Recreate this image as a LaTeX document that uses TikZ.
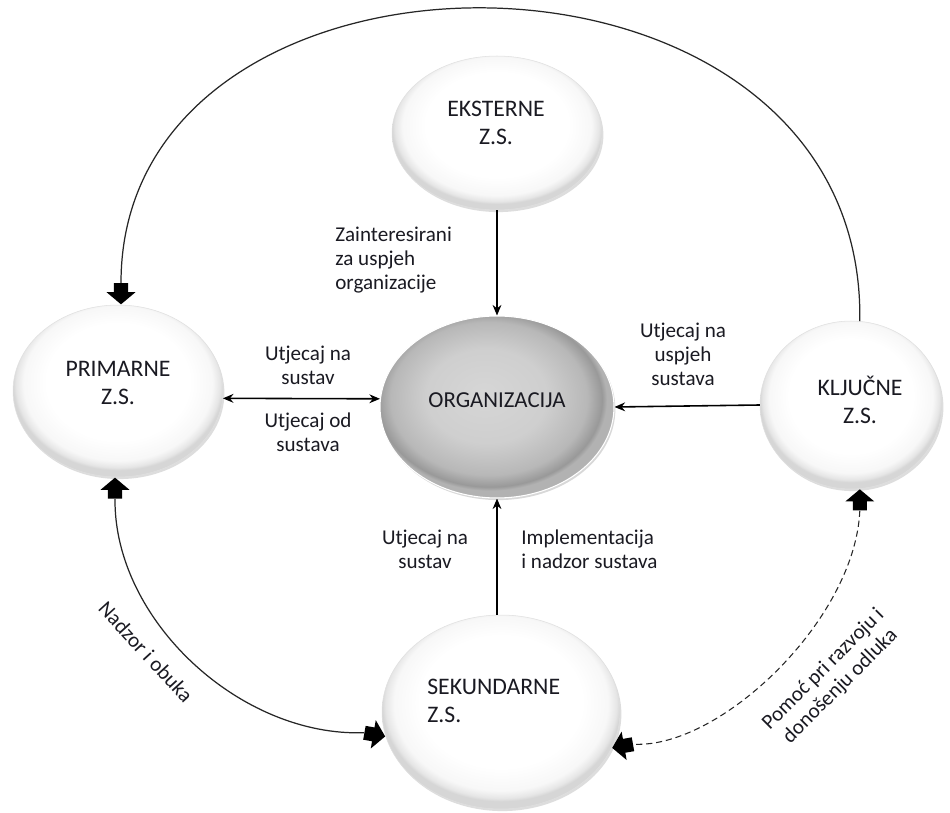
\documentclass[tikz,border=0pt]{standalone}
\usepackage{fontspec}
\setmainfont{Carlito}
\usetikzlibrary{arrows.meta,shapes.arrows,shapes.geometric,shadows}
\definecolor{zsA}{gray}{1}
\definecolor{zsB}{gray}{0.97}
\definecolor{zsC}{gray}{0.90}
\definecolor{zsD}{gray}{0.84}
\definecolor{orA}{gray}{0.84}
\definecolor{orB}{gray}{0.81}
\definecolor{orC}{gray}{0.72}
\definecolor{orD}{gray}{0.60}
\definecolor{orE}{gray}{0.70}
\definecolor{txt}{HTML}{1A1A22}
\pgfdeclareradialshading{zsball}{\pgfpoint{0bp}{4bp}}{color(0bp)=(zsA); color(17bp)=(zsA); color(22.5bp)=(zsB); color(24.3bp)=(zsC); color(25bp)=(zsD); color(50bp)=(zsD)}
\pgfdeclareradialshading{zsorg}{\pgfpoint{-3bp}{4bp}}{color(0bp)=(orA); color(13bp)=(orB); color(21bp)=(orC); color(24bp)=(orD); color(25bp)=(orE); color(50bp)=(orE)}
\newcommand{\lblfont}{\fontsize{12}{13.6}\selectfont}
\newcommand{\elfont}{\fontsize{13.5}{16}\selectfont}
\tikzset{
  zsnode/.style={ellipse, inner sep=0pt, shading=zsball, draw=black!12, line width=0.3pt,
    drop shadow={opacity=0.22, shadow xshift=0.8pt, shadow yshift=-1.2pt, fill=black!60}},
  orgnode/.style={ellipse, inner sep=0pt, shading=zsorg, draw=white, line width=0.6pt,
    drop shadow={opacity=0.25, shadow xshift=0.8pt, shadow yshift=-1.2pt, fill=black!60}},
  eltext/.style={font=\elfont, text=txt, align=center, inner sep=0pt},
  lbl/.style={font=\lblfont, text=txt, inner sep=0pt},
  fatarr/.style={single arrow, fill=black, draw=none, inner xsep=0pt, inner ysep=3.8pt,
    minimum height=12pt, single arrow head extend=4.2pt, single arrow tip angle=100, anchor=tip},
  sarrow/.style={line width=0.9pt, -{Stealth[length=6pt,width=5pt]}},
  curve/.style={line width=0.7pt, black!85}
}
\begin{document}
\begin{tikzpicture}[x=0.02cm, y=-0.02cm]
\useasboundingbox[fill=white] (0,0) rectangle (950,813);

% ellipses
\node[zsnode, minimum width=4.2cm, minimum height=3.08cm] (eks) at (497,133) {};
\node[orgnode, minimum width=4.68cm, minimum height=3.64cm] (org) at (497,407) {};
\node[zsnode, minimum width=4.2cm, minimum height=3.44cm] (pri) at (118,391) {};
\node[zsnode, minimum width=3.64cm, minimum height=3.36cm] (klj) at (851,405) {};
\node[zsnode, minimum width=4.76cm, minimum height=3.88cm] (sek) at (501,712) {};

% ellipse texts
\node[eltext] (eksT) at (496,123) {EKSTERNE\\Z.S.};
\node[eltext, font=\fontsize{13}{15}\selectfont] (orgT) at (497,400) {ORGANIZACIJA};
\node[eltext] (priT) at (118,383) {PRIMARNE\\Z.S.};
\node[eltext] (kljT) at (860,400) {KLJUČNE\\Z.S.};
\node[eltext, align=left, anchor=west] (sekT) at (427,701) {SEKUNDARNE\\Z.S.};

% straight connectors
\draw[sarrow] (eks.south) -- (org.north);
\draw[line width=0.9pt, {Stealth[length=6pt,width=5pt]}-{Stealth[length=6pt,width=5pt]}] (pri.-4) -- (org.176);
\draw[sarrow] (klj.west) -- (org.east);
\draw[sarrow] (org.south |- sek.north) -- (org.south);

% fat arrow heads
\node[fatarr, rotate=-90] (fa1) at (pri.88) {};
\node[fatarr, rotate=90] (fa2) at (pri.-92) {};
\node[fatarr, rotate=-10] (fa3) at (sek.192) {};
\node[fatarr, rotate=90] (fa4) at (klj.-84) {};
\node[fatarr, rotate=190] (fa5) at (sek.-18) {};

% curved connectors
\draw[curve] (klj.84) .. controls (866,-90) and (121,-90) .. (fa1.tail);
\draw[curve] (fa2.tail) .. controls (114,620) and (240,737) .. (fa3.tail);
\draw[curve, line width=0.6pt, dash pattern=on 3.5pt off 2.2pt] (fa4.tail) .. controls (855,620) and (720,749) .. (fa5.tail);

% labels
\node[lbl, align=left, anchor=west] (l1) at (335,260) {Zainteresirani\\za uspjeh\\organizacije};
\node[lbl, align=center] (l2) at (308,365) {Utjecaj na\\sustav};
\node[lbl, align=center] (l3) at (308,432) {Utjecaj od\\sustava};
\node[lbl, align=center] (l4) at (683,354) {Utjecaj na\\uspjeh\\sustava};
\node[lbl, align=center] (l5) at (425,549) {Utjecaj na\\sustav};
\node[lbl, align=left, anchor=west] (l6) at (521,549) {Implementacija\\i nadzor sustava};
\node[lbl, rotate=-47.6] (l7) at (146,652) {Nadzor i obuka};
\node[lbl, align=center, rotate=45] (l8) at (832,678) {Pomoć pri razvoju i\\donošenju odluka};
\end{tikzpicture}
\end{document}
